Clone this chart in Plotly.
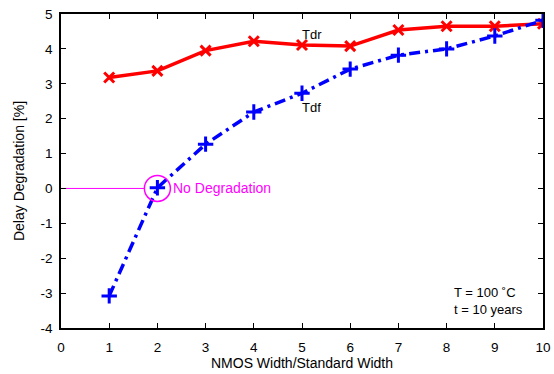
import plotly.graph_objects as go

widths = [1, 2, 3, 4, 5, 6, 7, 8, 9, 10]
tdr = [3.18, 3.37, 3.95, 4.22, 4.11, 4.08, 4.54, 4.65, 4.65, 4.72]
tdf = [-3.08, 0.02, 1.27, 2.19, 2.73, 3.42, 3.82, 4.0, 4.37, 4.82]
ref_x = [0, 1.73]
ref_y = [0, 0]
x_ticks = list(range(0, 11))
y_ticks = list(range(-4, 6))
y_ticktext = [str(v) for v in y_ticks]  # plain hyphen minus as in the reference

FONT = "Liberation Sans, Arial, sans-serif"

fig = go.Figure()
fig.add_trace(go.Scatter(x=ref_x, y=ref_y, mode="lines",
                         line=dict(color="#ff00ff", width=1), showlegend=False))
fig.add_trace(go.Scatter(x=widths, y=tdr, mode="lines+markers",
                         line=dict(color="#ff0000", width=3.5),
                         marker=dict(symbol="x-thin", size=10, line=dict(color="#ff0000", width=3)),
                         showlegend=False))
fig.add_trace(go.Scatter(x=widths, y=tdf, mode="lines+markers",
                         line=dict(color="#0000ff", width=3.5, dash="11px,5px,3px,5px"),
                         marker=dict(symbol="cross-thin", size=11, line=dict(color="#0000ff", width=3)),
                         showlegend=False))

fig.add_shape(type="circle", xref="x", yref="y", xsizemode="pixel", ysizemode="pixel",
              xanchor=2, yanchor=0, x0=-13, x1=13, y0=-13, y1=13,
              line=dict(color="#ff00ff", width=1.5))

fig.add_annotation(x=2.28, y=0, text="No Degradation", showarrow=False, xanchor="left",
                   font=dict(color="#ff00ff", size=14, family=FONT))
fig.add_annotation(x=5.2, y=4.42, text="Tdr", showarrow=False, xanchor="center",
                   font=dict(color="black", size=13, family=FONT))
fig.add_annotation(x=5.2, y=2.33, text="Tdf", showarrow=False, xanchor="center",
                   font=dict(color="black", size=13, family=FONT))
fig.add_annotation(x=8.12, y=-3.22, text="T = 100 ˚C<br>t = 10 years", showarrow=False,
                   xanchor="left", align="left",
                   font=dict(color="black", size=13, family=FONT))

axis_common = dict(showgrid=False, zeroline=False, showline=True, linecolor="black",
                   linewidth=1.5, mirror="ticks", ticks="inside", ticklen=5,
                   tickcolor="black", tickwidth=1, automargin=False,
                   tickfont=dict(size=13.5, family=FONT, color="black"))

fig.update_layout(
    width=554, height=374, plot_bgcolor="white", paper_bgcolor="white",
    margin=dict(l=61, r=11, t=14, b=46),
    font=dict(family=FONT, size=12, color="black"),
    xaxis=dict(range=[0, 10], tickvals=x_ticks, ticklabelstandoff=6,
               title=dict(text="NMOS Width/Standard Width", standoff=0,
                          font=dict(size=14, family=FONT)), **axis_common),
    yaxis=dict(range=[-4, 5], tickvals=y_ticks, ticktext=y_ticktext, ticklabelstandoff=4,
               title=dict(text="Delay Degradation [%]", standoff=13,
                          font=dict(size=14, family=FONT)), **axis_common),
)

fig.write_html("out.html")
